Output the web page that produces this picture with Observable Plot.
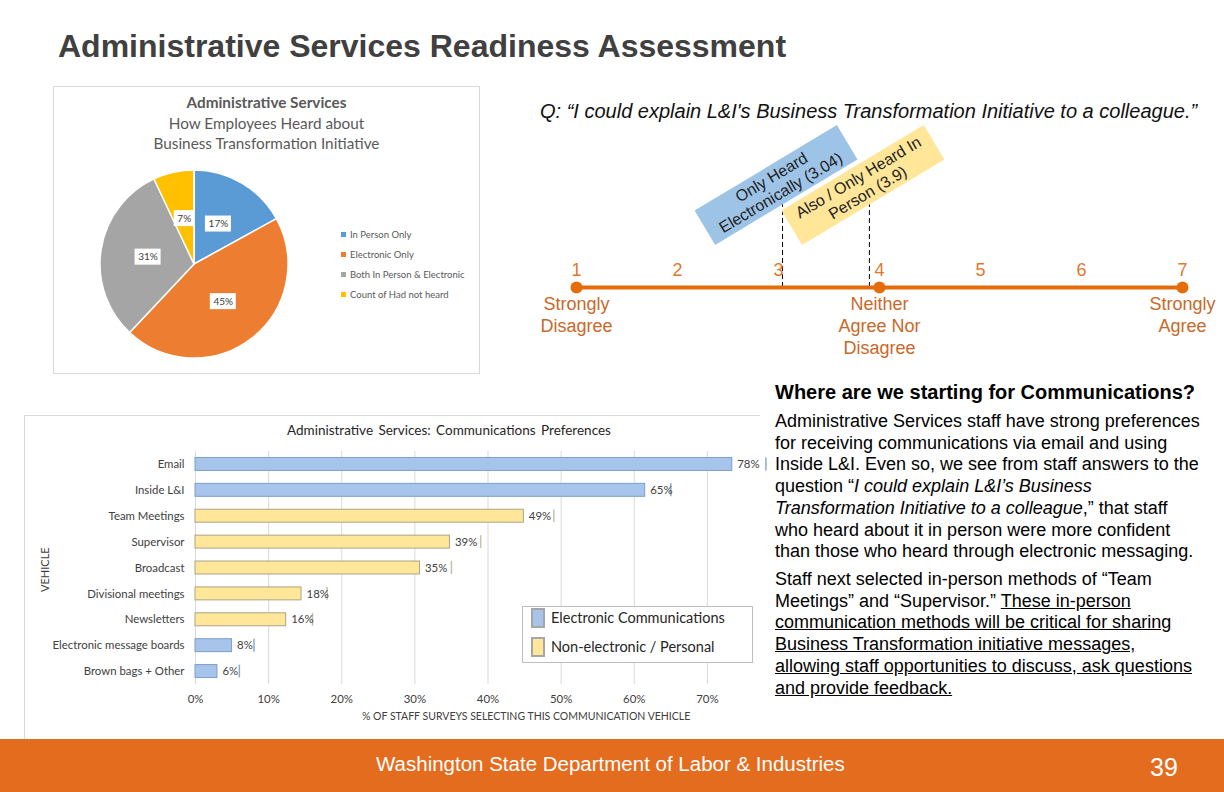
<!DOCTYPE html>
<html><head><meta charset="utf-8">
<script src="https://cdn.jsdelivr.net/npm/d3@7"></script>
<script src="https://cdn.jsdelivr.net/npm/@observablehq/plot@0.6"></script>
<style>
html,body{margin:0;padding:0;}
body{width:1224px;height:792px;position:relative;overflow:hidden;background:#fff;font-family:"Liberation Sans",Arial,sans-serif;}
.abs{position:absolute;white-space:nowrap;}
#title{left:58px;top:28px;font-size:32px;font-weight:bold;color:#404040;}
#question{left:540px;top:100px;font-size:20px;font-style:italic;color:#111;}
#pieFrame{left:53px;top:86px;width:425px;height:286px;border:1px solid #d9d9d9;}
.pieT{left:53px;width:427px;text-align:center;font-family:Lato,sans-serif;font-size:15.3px;color:#595959;}
.pieLeg{left:341px;font-family:Lato,sans-serif;font-size:9.5px;color:#595959;}
.pieLeg span{display:inline-block;width:5px;height:5px;margin-right:4px;vertical-align:1px;}
#barFrame{left:24px;top:415px;width:735px;height:340px;border-top:1px solid #d9d9d9;border-left:1px solid #d9d9d9;}
#barTitle{left:287px;top:422px;font-family:Lato,sans-serif;font-size:13.5px;color:#262626;word-spacing:2px;}
#vehicle{left:20px;top:560px;font-family:Lato,sans-serif;font-size:11px;color:#404040;transform:rotate(-90deg);transform-origin:25px 7px;}
#xTitle{left:362px;top:710px;font-family:Lato,sans-serif;font-size:10.5px;color:#404040;width:325px;text-align:center;}
#barLegend{left:522px;top:606px;width:229px;height:55px;border:1px solid #bfbfbf;background:#fff;}
.bl{left:531px;font-family:Lato,sans-serif;font-size:14.5px;color:#262626;}
.bl span{display:inline-block;width:10px;height:16px;border:2px solid #a6a6a6;margin-right:6px;vertical-align:-5px;}
#heading{left:775px;top:381px;font-size:20px;font-weight:bold;color:#000;}
.para{left:775px;font-size:18px;line-height:21.7px;color:#000;}
#footer{left:0;top:739px;width:1224px;height:53px;background:#E46C1E;}
#footText{left:376px;top:752px;font-size:20.5px;color:#fff;}
#pageNum{left:1150px;top:753px;font-size:25px;color:#fff;}
svg{overflow:visible;}
</style></head><body>
<div class="abs" id="title">Administrative Services Readiness Assessment</div>
<div class="abs" id="question">Q: “I could explain L&amp;I's Business Transformation Initiative to a colleague.”</div>

<div class="abs" id="pieFrame"></div>
<div class="abs pieT" style="top:93px;font-weight:bold;">Administrative Services</div>
<div class="abs pieT" style="top:114px;">How Employees Heard about</div>
<div class="abs pieT" style="top:134px;">Business Transformation Initiative</div>
<div id="pieLegend"></div>
<div class="abs" id="pieChart" style="left:89px;top:159px;"></div>

<div class="abs" id="likert" style="left:530px;top:120px;"></div>

<div class="abs" id="barFrame"></div>
<div class="abs" id="barTitle">Administrative Services:  Communications  Preferences</div>
<div class="abs" id="vehicle">VEHICLE</div>
<div class="abs" id="barChart" style="left:24px;top:416px;"></div>
<div class="abs" id="xTitle">% OF STAFF SURVEYS SELECTING THIS COMMUNICATION VEHICLE</div>
<div class="abs" id="barLegend"></div>
<div id="barLegendItems"></div>

<div class="abs" id="heading">Where are we starting for Communications?</div>
<div class="abs para" style="top:411px;">Administrative Services staff have strong preferences<br>for receiving communications via email and using<br>Inside L&amp;I. Even so, we see from staff answers to the<br>question “<i>I could explain L&amp;I’s Business</i><br><i>Transformation Initiative to a colleague</i>,” that staff<br>who heard about it in person were more confident<br>than those who heard through electronic messaging.</div>
<div class="abs para" style="top:569px;">Staff next selected in-person methods of “Team<br>Meetings” and “Supervisor.” <u>These in-person</u><br><u>communication methods will be critical for sharing</u><br><u>Business Transformation initiative messages,</u><br><u>allowing staff opportunities to discuss, ask questions</u><br><u>and provide feedback.</u></div>

<div class="abs" id="footer"></div>
<div class="abs" id="footText">Washington State Department of Labor &amp; Industries</div>
<div class="abs" id="pageNum">39</div>

<script>
// ---------------- DATA ----------------
const pieCategories = ["In Person Only", "Electronic Only", "Both In Person & Electronic", "Count of Had not heard"];
const pieValues = [17, 45, 31, 7];
const pieColors = ["#5B9BD5", "#ED7D31", "#A5A5A5", "#FFC000"];

const vehicles = ["Email", "Inside L&I", "Team Meetings", "Supervisor", "Broadcast", "Divisional meetings", "Newsletters", "Electronic message boards", "Brown bags + Other"];
const vehicleType = ["Electronic", "Electronic", "Personal", "Personal", "Personal", "Personal", "Personal", "Electronic", "Electronic"];
const barValues = [73.4, 61.5, 44.9, 34.8, 30.7, 14.5, 12.4, 5.0, 3.0];
const labelValues = [78, 65, 49, 39, 35, 18, 16, 8, 6];
const xTicks = [0, 10, 20, 30, 40, 50, 60, 70];
const legendNames = ["Electronic Communications", "Non-electronic / Personal"];

const scalePoints = [1, 2, 3, 4, 5, 6, 7];
const anchorPoints = [1, 4, 7];
const anchorLabels = ["Strongly\nDisagree", "Neither\nAgree Nor\nDisagree", "Strongly\nAgree"];
const groupNames = ["Only Heard\nElectronically (3.04)", "Also / Only Heard In\nPerson (3.9)"];
const groupMeans = [3.04, 3.9];
const groupColors = ["#9DC3E6", "#FFE699"];

// ---------------- PIE ----------------
const pieData = pieCategories.map((c, i) => ({category: c, value: pieValues[i], color: pieColors[i]}));
const arcs = d3.pie().sort(null).value(d => d.value)(pieData);
const labelPos = arcs.map(a => {
  const m = (a.startAngle + a.endAngle) / 2;
  return {x: Math.sin(m) * 0.5, y: Math.cos(m) * 0.5, text: a.data.value + "%"};
});
function pieSlices(index, scales) {
  const cx = scales.x(0), cy = scales.y(0), r = Math.abs(scales.x(1) - scales.x(0));
  const g = d3.create("svg:g");
  const inner = g.append("g").attr("transform", `translate(${cx},${cy})`);
  const arc = d3.arc().innerRadius(0).outerRadius(r);
  inner.selectAll("path").data(arcs).join("path")
    .attr("d", arc).attr("fill", d => d.data.color).attr("stroke", "#fff").attr("stroke-width", 1.5);
  g.selectAll("rect").data(labelPos).join("rect")
    .attr("x", d => scales.x(d.x) - (d.text.length * 6 + 8) / 2)
    .attr("y", d => scales.y(d.y) - 8)
    .attr("width", d => d.text.length * 6 + 8)
    .attr("height", 16)
    .attr("fill", "#fff");
  return g.node();
}
const pie = Plot.plot({
  width: 210, height: 210, marginLeft: 11, marginRight: 11, marginTop: 11, marginBottom: 11,
  x: {domain: [-1, 1], axis: null}, y: {domain: [-1, 1], axis: null},
  style: {fontFamily: "Lato, sans-serif", background: "transparent"},
  marks: [
    pieSlices,
    Plot.text(labelPos, {x: "x", y: "y", text: "text", fill: "#404040", fontSize: 10})
  ]
});
document.getElementById("pieChart").appendChild(pie);
const pl = document.getElementById("pieLegend");
pieCategories.forEach((c, i) => {
  const d = document.createElement("div");
  d.className = "abs pieLeg";
  d.style.top = (229 + i * 20) + "px";
  d.innerHTML = `<span style="background:${pieColors[i]}"></span>` + c.replace(/&/g, "&amp;");
  pl.appendChild(d);
});

// ---------------- LIKERT SCALE ----------------
const orange = "#E46C0A";
function groupBoxes(index, scales) {
  const g = d3.create("svg:g");
  const y0 = scales.y(0);
  groupMeans.forEach((m, i) => {
    const cx = scales.x(m) - 6, cy = y0 - 102;
    const b = g.append("g").attr("transform", `translate(${cx},${cy}) rotate(-31)`);
    b.append("rect").attr("x", -83).attr("y", -20).attr("width", 166).attr("height", 40).attr("fill", groupColors[i]);
    const lines = groupNames[i].split("\n");
    lines.forEach((t, j) => {
      b.append("text").attr("x", 0).attr("y", (j - (lines.length - 1) / 2) * 18)
        .attr("text-anchor", "middle").attr("dominant-baseline", "central")
        .attr("font-size", 16).attr("fill", "#222").text(t);
    });
  });
  return g.node();
}
const likert = Plot.plot({
  width: 694, height: 240, marginLeft: 46, marginRight: 42, marginTop: 0, marginBottom: 73,
  x: {domain: [1, 7], axis: null}, y: {domain: [0, 1], axis: null},
  style: {fontFamily: "Liberation Sans, Arial, sans-serif", background: "transparent"},
  marks: [
    Plot.ruleX(groupMeans, {x: d => d, y1: () => 0, y2: () => 0.5, stroke: "#000", strokeWidth: 1, strokeDasharray: "5,3"}),
    groupBoxes,
    Plot.line(scalePoints, {x: d => d, y: () => 0, stroke: orange, strokeWidth: 4}),
    Plot.dot(anchorPoints, {x: d => d, y: () => 0, r: 6, fill: orange}),
    Plot.text(scalePoints, {x: d => d, y: () => 0, text: d => String(d), dy: -17, fill: "#E0782F", fontSize: 18}),
    Plot.text(anchorPoints, {x: d => d, y: () => 0, text: (d, i) => anchorLabels[i], lineAnchor: "top", dy: 7, lineHeight: 1.222, fill: "#C8692A", fontSize: 18})
  ]
});
document.getElementById("likert").appendChild(likert);

// ---------------- BAR CHART ----------------
const barData = vehicles.map((v, i) => ({vehicle: v, type: vehicleType[i], bar: barValues[i], label: labelValues[i]}));
const bars = Plot.plot({
  width: 760, height: 320, marginLeft: 171, marginRight: 4, marginTop: 35, marginBottom: 52,
  x: {domain: [0, 80]}, y: {domain: vehicles, paddingInner: 0.5, paddingOuter: 0.25, round: false},
  style: {fontFamily: "Lato, sans-serif", fontSize: "11.4px", color: "#404040", background: "transparent"},
  marks: [
    Plot.gridX(xTicks, {stroke: "#d9d9d9", strokeOpacity: 1}),
    Plot.barX(barData.filter(d => d.type === "Electronic"), {x: "bar", y: "vehicle", fill: "#A7C5EA", stroke: "#7C9FCC", strokeWidth: 1}),
    Plot.barX(barData.filter(d => d.type === "Personal"), {x: "bar", y: "vehicle", fill: "#FFE699", stroke: "#ABA488", strokeWidth: 1}),
    Plot.tickX(barData.filter(d => d.type === "Electronic"), {x: "label", y: "vehicle", stroke: "#8FA9CF", strokeWidth: 1.5}),
    Plot.tickX(barData.filter(d => d.type === "Personal"), {x: "label", y: "vehicle", stroke: "#C9C2A0", strokeWidth: 1.5}),
    Plot.text(barData, {x: "bar", y: "vehicle", text: d => d.label + "%", dx: 5, textAnchor: "start", fill: "#404040", fontSize: 11.4}),
    Plot.axisY({tickSize: 0, tickPadding: 11, label: null, fill: "#404040", fontSize: 11.4}),
    Plot.axisX(xTicks, {tickSize: 0, tickPadding: 10, label: null, tickFormat: d => d + "%", fill: "#404040", fontSize: 11.4})
  ]
});
document.getElementById("barChart").appendChild(bars);
const bli = document.getElementById("barLegendItems");
legendNames.forEach((n, i) => {
  const d = document.createElement("div");
  d.className = "abs bl";
  d.style.top = (608 + i * 29) + "px";
  d.innerHTML = `<span style="background:${i === 0 ? "#A7C5EA" : "#FFE699"}"></span>` + n;
  bli.appendChild(d);
});
</script>
</body></html>
